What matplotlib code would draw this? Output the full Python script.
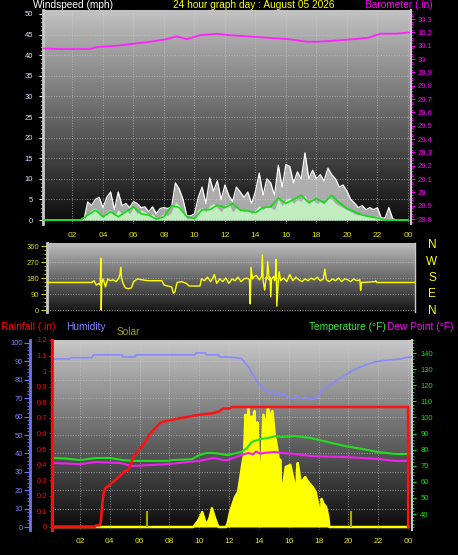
import numpy as np
import matplotlib
matplotlib.use('Agg')
import matplotlib.pyplot as plt
from matplotlib.ticker import MultipleLocator, FuncFormatter

plt.rcParams['font.family'] = ['Liberation Sans', 'DejaVu Sans']

W, H = 458, 555

# ---- wind speed, one value every 15 minutes (mph) ----
gust = [0, 0, 0, 0, 0, 0, 0, 0,
        0, 0, 0, 0, 4.4, 3.5, 5.0, 5.5,
        3.0, 5.5, 6.8, 2.5, 6.8, 3.5, 4.0, 3.0,
        4.5, 4.0, 3.0, 3.2, 2.0, 3.2, 1.5, 2.8,
        3.0, 2.8, 3.2, 9.0, 7.5, 5.0, 1.0, 1.0,
        1.5, 5.5, 8.0, 4.0, 10.2, 7.0, 9.5, 5.0,
        8.5, 6.0, 4.5, 8.0, 6.8, 5.5, 6.8, 4.0,
        7.0, 11.4, 6.0, 10.0, 9.0, 6.0, 13.3, 8.0,
        13.5, 13.0, 9.0, 11.7, 10.0, 16.3, 10.0, 12.1,
        10.0, 11.0, 9.5, 12.6, 11.0, 10.0, 8.0, 8.5,
        7.0, 5.0, 4.1, 3.0, 3.5, 2.5, 3.0, 2.5,
        3.0, 0.5, 0.5, 3.0, 0.3, 0, 0, 0,
        0]
speed = [0, 0, 0, 0, 0, 0, 0, 0,
         0, 0, 0, 0, 1.5, 2.5, 3.0, 1.5,
         0.5, 2.0, 2.5, 1.0, 2.5, 1.5, 2.5, 1.5,
         3.0, 1.5, 2.5, 2.0, 1.0, 1.5, 0.3, 1.0,
         1.5, 1.0, 2.0, 4.5, 3.5, 2.0, 0.3, 0.3,
         0.5, 2.5, 3.0, 2.0, 3.5, 4.0, 3.0, 2.0,
         3.5, 4.0, 2.0, 3.0, 2.5, 2.0, 2.5, 1.5,
         2.5, 3.5, 2.5, 3.5, 3.0, 2.5, 5.0, 3.5,
         5.0, 5.5, 4.0, 5.0, 4.5, 6.0, 4.0, 5.0,
         4.0, 4.5, 4.0, 5.5, 5.0, 4.0, 3.5, 3.0,
         2.5, 2.0, 1.5, 1.2, 1.5, 1.0, 1.0, 0.8,
         1.0, 0.2, 0, 0.5, 0, 0, 0, 0,
         0]
# average wind, every 30 minutes
avg = [0, 0, 0, 0, 0, 0, 1.2, 2.4,
       0.8, 2.0, 0.8, 2.0, 3.2, 1.5, 1.2, 0.2,
       0.8, 3.5, 3.0, 0.8, 0.3, 2.5, 2.5, 3.6,
       3.0, 4.0, 2.4, 2.2, 1.8, 3.0, 3.2, 5.3,
       4.0, 5.0, 6.0, 4.2, 5.2, 4.2, 6.0, 4.2,
       2.8, 2.0, 1.2, 0.8, 0.5, 0, 0, 0,
       0]

baro_hours = [0.07, 1.2, 2.3, 3.1, 3.6, 4.9, 6.0, 7.1, 8.2, 8.8, 9.5, 10.4,
              11.5, 12.2, 13.5, 14.8, 16.1, 17.4, 18.1, 19.4, 20.5, 21.4,
              22.2, 23.1, 24.2]
baro = [30.08, 30.075, 30.075, 30.075, 30.09, 30.10, 30.115, 30.13, 30.15,
        30.17, 30.15, 30.18, 30.19, 30.18, 30.17, 30.16, 30.15, 30.13, 30.13,
        30.14, 30.15, 30.16, 30.19, 30.19, 30.20]

# ---- wind direction (degrees) ----
dir_hours = [0.3, 3.3, 3.45, 3.6, 3.75, 3.85, 3.9, 3.92, 3.95, 4.05,
             4.2, 4.35, 4.5, 4.7, 4.9, 5.05, 5.15, 5.2, 5.25, 5.35,
             5.5, 5.7, 5.9, 6.05, 6.3, 6.6, 7.0, 7.5, 7.9, 8.05,
             8.3, 8.55, 8.65, 8.75, 8.9, 9.2, 9.5, 9.7, 10.4, 10.5,
             10.7, 10.9, 11.1, 11.25, 11.35, 11.5, 11.7, 11.9, 12.1, 12.3,
             12.5, 12.7, 12.9, 13.1, 13.3, 13.5, 13.65, 13.7, 13.75, 13.85,
             13.9, 14.1, 14.3, 14.45, 14.5, 14.55, 14.65, 14.75, 14.8, 14.85,
             14.95, 15.0, 15.05, 15.1, 15.25, 15.3, 15.35, 15.4, 15.45, 15.55,
             15.6, 15.7, 15.9, 16.1, 16.3, 16.5, 16.7, 16.9, 17.1, 17.3,
             17.5, 17.7, 17.9, 18.1, 18.3, 18.5, 18.6, 18.7, 18.9, 19.1,
             19.3, 19.5, 19.7, 19.9, 20.1, 20.3, 20.5, 20.7, 20.9, 20.95,
             21.0, 21.1, 21.9, 21.95, 22.0, 24.5]
dir_deg = [155, 155, 165, 140, 150, 140, 290, 0, 150, 175,
           130, 175, 165, 170, 160, 175, 200, 240, 180, 150,
           125, 120, 125, 160, 175, 170, 165, 165, 165, 140,
           135, 130, 95, 100, 155, 160, 150, 135, 135, 175,
           165, 185, 160, 180, 200, 150, 175, 160, 180, 150,
           175, 165, 185, 160, 175, 180, 170, 35, 240, 175,
           185, 195, 170, 190, 310, 165, 112, 185, 175, 272,
           170, 185, 75, 175, 190, 165, 180, 285, 22, 170,
           215, 165, 180, 160, 200, 165, 185, 170, 160, 175,
           165, 180, 170, 185, 165, 175, 230, 170, 160, 175,
           165, 180, 160, 175, 170, 160, 175, 165, 170, 110,
           155, 155, 160, 165, 155, 155]

# ---- rain, humidity, temperature, dew point, solar ----
rain_hours = [0.1, 3.0, 3.1, 3.3, 3.4, 3.5, 3.6, 3.7, 4.0, 4.35, 4.6, 4.9,
              5.25, 5.4, 5.6, 6.0, 6.4, 6.7, 7.0, 7.4, 7.8, 8.3, 8.8, 10.0,
              10.9, 11.3, 11.6, 12.0, 12.2, 24.0, 24.0]
rain = [0, 0, 0.01, 0.01, 0.03, 0.15, 0.22, 0.25, 0.27, 0.30, 0.32, 0.35,
        0.37, 0.40, 0.45, 0.50, 0.55, 0.60, 0.63, 0.67, 0.68, 0.69, 0.70, 0.72,
        0.73, 0.74, 0.76, 0.76, 0.77, 0.77, 0]

hum_hours = [0.1, 1.3, 1.4, 2.8, 2.9, 4.8, 4.9, 5.7, 5.8, 9.7, 9.8, 10.4,
             10.5, 11.3, 11.4, 11.9, 12.5, 12.8, 13.0, 13.3, 13.5, 13.7, 13.9,
             14.1, 14.3, 14.5, 14.7, 14.9, 15.1, 15.3, 15.5, 15.7, 15.9, 16.2,
             16.5, 16.8, 17.1, 17.4, 17.8, 18.0, 18.2, 18.6, 19.1, 19.5, 20.0,
             20.4, 20.8, 21.3, 21.8, 22.2, 22.7, 23.1, 23.5, 23.8, 24.2]
hum = [91.3, 91.3, 92, 92, 93.5, 93.5, 92.4, 92.4, 93.5, 93.5, 94.6, 94.6,
       93.5, 93.5, 92.4, 92.4, 92, 91.5, 90, 87, 84, 81.5, 79,
       77, 75, 74, 73, 74, 72, 73, 71.5, 72.5, 70.5, 70,
       71, 70, 70.5, 69.5, 70, 71, 74.5, 76, 79, 81, 83.7,
       85.5, 87, 88.5, 89.7, 90.3, 90.8, 91, 91.3, 92, 92.4]

temp_hours = [0.1, 1.0, 2.0, 3.1, 4.0, 4.9, 5.6, 7.9, 8.2, 9.5, 10.0, 10.5,
              11.0, 11.9, 12.8, 13.2, 13.5, 14.1, 14.6, 15.1, 15.5, 16.4,
              17.5, 18.6, 19.8, 20.9, 22.0, 23.1, 24.0]
temp = [74.8, 74.5, 73.5, 74.8, 74.8, 73.5, 73, 73, 73.5, 74, 76.6, 77.9,
        77.9, 76.6, 78.5, 81, 84.7, 86.6, 87.2, 88.4, 87.8, 88.4,
        87.2, 84.7, 82.2, 80.4, 78.5, 77.3, 77.3]

dew_hours = [0.1, 2.0, 3.1, 4.7, 5.5, 7.9, 10.0, 11.0, 11.6, 11.9, 12.8, 13.3,
             13.6, 13.8, 14.1, 14.4, 15.1, 15.5, 16.4, 17.5, 19.8, 22.0, 23.1,
             24.0]
dew = [71.7, 71, 72.3, 71.7, 69.8, 71, 73, 74.8, 73.5, 73.5, 76.6, 77.9,
       77, 78.8, 77.5, 78, 78.5, 78, 77.3, 76, 75.4, 74.2, 73, 73]

solar_hours = [0.1, 9.6, 9.9, 10.1, 10.2, 10.35, 10.5, 10.7, 10.85, 11.0, 11.2,
               11.3, 11.8, 11.9, 12.1, 12.4, 12.6, 12.8, 12.9, 13.0, 13.1,
               13.2, 13.3, 13.4, 13.5, 13.6, 13.7, 13.8, 13.9, 14.05, 14.15,
               14.3, 14.45, 14.6, 14.75, 14.9, 15.05, 15.2, 15.3, 15.38, 15.42,
               15.5, 15.6, 15.8, 16.1, 16.3, 16.45, 16.5, 16.55, 16.6, 16.8,
               17.1, 17.3, 17.6, 17.8, 18.05, 18.15, 18.2, 18.3, 18.5, 18.65,
               18.72, 24.0]
solar = [0, 0, 30, 60, 80, 40, 10, 50, 100, 60, 15,
         0, 0, 20, 90, 160, 187, 289, 342, 380, 600,
         480, 636, 520, 590, 560, 620, 420, 560, 235, 305,
         600, 520, 640, 580, 620, 500, 430, 380, 60, 360,
         160, 214, 321, 332, 262, 200, 40, 300, 342, 235,
         267, 241, 214, 187, 91, 20, 150, 128, 107, 53,
         0, 0]
solar_spot_hours = [6.5, 20.2]
solar_spot = [85, 85]

assert len(dir_hours) == len(dir_deg)
assert len(solar_hours) == len(solar)
assert len(hum_hours) == len(hum)

quarter = np.arange(len(gust)) * 0.25
half = np.arange(len(avg)) * 0.5

fig = plt.figure(figsize=(W / 100, H / 100), dpi=100, facecolor='black')


def box(left, top, right, bottom):
    return fig.add_axes([left / W, 1 - bottom / H, (right - left) / W, (bottom - top) / H])


def shade(ax, top, bottom):
    g = np.linspace(top, bottom, 200).reshape(-1, 1)
    ax.imshow(g, cmap='gray', vmin=0, vmax=1, aspect='auto', extent=(0, 1, 0, 1),
              transform=ax.transAxes, zorder=0, interpolation='bilinear')


def strip(ax):
    for s in ax.spines.values():
        s.set_visible(False)


def short(v, pos):
    return f'{v:.1f}'.rstrip('0').rstrip('.')


hour_ticks = list(range(2, 25, 2))
hour_labels = [f'{h % 24:02d}' for h in hour_ticks]
yellow_lbl = '#e6e600'

# ---------------- wind speed / barometer ----------------
ax1 = box(43, 10, 411, 224)
shade(ax1, 0.76, 0.04)
ax1.fill_between(quarter, gust, color='#e8e8e8', alpha=0.7, lw=0, zorder=2)
ax1.plot(quarter, gust, color='white', lw=0.9, zorder=3)
ax1.fill_between(quarter, speed, color='#c4f5c4', alpha=0.9, lw=0, zorder=4)
ax1.plot(half, avg, color='#11dd11', lw=1.2, zorder=5)
ax1.set_xlim(0.066, 24.2)
ax1.set_ylim(-0.97, 50.97)
ax1.set_yticks(range(0, 51, 5))
ax1.yaxis.set_minor_locator(MultipleLocator(1))
ax1.set_xticks(hour_ticks, hour_labels)
ax1.grid(True, color='#d0d0d0', ls=':', lw=0.7, alpha=0.6)
strip(ax1)
ax1.spines['left'].set_visible(True)
ax1.spines['left'].set_color('#c8c8c8')
ax1.spines['left'].set_linewidth(2)
ax1.tick_params(axis='y', colors='white', labelcolor='#d8e4ff', labelsize=5.5,
                length=3, width=0.8, pad=4)
ax1.tick_params(axis='y', which='minor', colors='white', length=1.5, width=0.6)
ax1.tick_params(axis='x', length=0, labelcolor=yellow_lbl, labelsize=6, pad=5.5)

ax1b = ax1.twinx()
ax1b.plot(baro_hours, baro, color='#ff22ff', lw=1.3)
ax1b.set_ylim(28.763, 30.368)
ax1b.set_yticks(np.round(np.arange(28.8, 30.31, 0.1), 1))
ax1b.yaxis.set_minor_locator(MultipleLocator(0.02))
ax1b.yaxis.set_major_formatter(FuncFormatter(short))
strip(ax1b)
ax1b.spines['right'].set_visible(True)
ax1b.spines['right'].set_color('#c8c8c8')
ax1b.spines['right'].set_linewidth(1.5)
ax1b.tick_params(axis='y', colors='#ff00ff', labelsize=5.5, length=3, width=0.8, pad=2)
ax1b.tick_params(axis='y', which='minor', colors='#ff00ff', length=1.5, width=0.6)

fig.text(33 / W, 1 - 5 / H, 'Windspeed (mph)', color='white', fontsize=7.3, va='center')
fig.text(254 / W, 1 - 5 / H, '24 hour graph day : August 05 2026', color='#ffff00',
         fontsize=7.3, va='center', ha='center')
fig.text(433 / W, 1 - 5 / H, 'Barometer (.in)', color='#ff00ff', fontsize=7.3,
         va='center', ha='right')

# ---------------- wind direction ----------------
ax2 = box(47, 243, 415, 312)
shade(ax2, 0.75, 0.08)
ax2.plot(dir_hours, dir_deg, color='#ffff00', lw=1, zorder=3)
ax2.set_xlim(0.36, 24.52)
ax2.set_ylim(-11, 377)
ax2.set_yticks([0, 90, 180, 270, 360])
ax2.yaxis.set_minor_locator(MultipleLocator(22.5))
ax2.set_xticks([])
ax2.grid(True, axis='y', color='#d0d0d0', ls=':', lw=0.7, alpha=0.6)
strip(ax2)
ax2.spines['left'].set_visible(True)
ax2.spines['left'].set_color('#c8c8c8')
ax2.spines['left'].set_linewidth(2)
ax2.spines['right'].set_visible(True)
ax2.spines['right'].set_color('#c8c8c8')
ax2.spines['right'].set_linewidth(1)
ax2.tick_params(axis='y', colors='#d4d400', labelsize=5.5, length=4, width=0.8, pad=1.5)
ax2.tick_params(axis='y', which='minor', colors='#d4d400', length=2, width=0.6)

for lbl, y in zip(['N', 'W', 'S', 'E', 'N'], [245, 262, 278, 294, 311]):
    fig.text(432 / W, 1 - y / H, lbl, color='#ffff00', fontsize=8.5, ha='center', va='center')

# ---------------- rain / humidity / solar / temperature ----------------
ax3 = box(52, 340, 412, 530)
shade(ax3, 0.78, 0.04)
ax3.fill_between(solar_hours, solar, color='#ffff00', lw=0, zorder=2)
ax3.plot(solar_hours, solar, color='#ffff00', lw=1.8, zorder=2)
ax3.vlines(solar_spot_hours, 0, solar_spot, color='#a8a800', lw=1.5, zorder=2)
ax3.set_xlim(0.13, 24.26)
ax3.set_ylim(-16, 1000)
ax3.set_yticks([])
ax3.set_xticks(hour_ticks, hour_labels)
ax3.grid(True, axis='x', color='#d0d0d0', ls=':', lw=0.7, alpha=0.6)
hum_lim = (-1.6, 101.6)
fracs = [(v - hum_lim[0]) / (hum_lim[1] - hum_lim[0]) for v in range(10, 101, 10)]
ax3.hlines(fracs, 0, 1, transform=ax3.transAxes, color='#d0d0d0', ls=':', lw=0.7,
           alpha=0.6, zorder=1)
strip(ax3)
ax3.spines['left'].set_visible(True)
ax3.spines['left'].set_color('white')
ax3.spines['left'].set_linewidth(2)
ax3.tick_params(axis='x', length=0, labelcolor=yellow_lbl, labelsize=6, pad=5.5)

ax3t = ax3.twinx()
ax3t.plot(temp_hours, temp, color='#22dd22', lw=1.5)
ax3t.plot(dew_hours, dew, color='#ee22ee', lw=1.5)
ax3t.set_ylim(30.06, 148.1)
ax3t.set_yticks(range(40, 141, 10))
ax3t.yaxis.set_minor_locator(MultipleLocator(2))
strip(ax3t)
ax3t.spines['right'].set_visible(True)
ax3t.spines['right'].set_color('#c8c8c8')
ax3t.spines['right'].set_linewidth(1.5)
ax3t.tick_params(axis='y', colors='#00ee00', labelsize=5.5, length=3, width=0.8, pad=3)
ax3t.tick_params(axis='y', which='minor', colors='#00ee00', length=1.5, width=0.6)

ax3h = ax3.twinx()
ax3h.plot(hum_hours, hum, color='#8888ff', lw=1.2)
ax3h.set_ylim(*hum_lim)
ax3h.set_yticks(range(0, 101, 10))
ax3h.yaxis.set_minor_locator(MultipleLocator(2))
strip(ax3h)
ax3h.yaxis.set_ticks_position('left')
ax3h.yaxis.set_label_position('left')
ax3h.spines['left'].set_visible(True)
ax3h.spines['left'].set_position(('axes', (30 - 52) / 360))
ax3h.spines['left'].set_color('#7070ff')
ax3h.spines['left'].set_linewidth(2)
ax3h.tick_params(axis='y', colors='#7070ff', labelcolor='#8080ff', labelsize=5.5,
                 length=4, width=0.8, pad=1)
ax3h.tick_params(axis='y', which='minor', colors='#7070ff', length=2, width=0.6)

ax3r = ax3.twinx()
ax3r.plot(rain_hours, rain, color='#ff1111', lw=1.8)
ax3r.set_ylim(-0.0193, 1.2)
ax3r.set_yticks(np.round(np.arange(0, 1.21, 0.1), 1))
ax3r.yaxis.set_minor_locator(MultipleLocator(0.02))
ax3r.yaxis.set_major_formatter(FuncFormatter(short))
strip(ax3r)
ax3r.yaxis.set_ticks_position('left')
ax3r.spines['left'].set_visible(True)
ax3r.spines['left'].set_color('#ff0000')
ax3r.spines['left'].set_linewidth(2)
ax3r.spines['left'].set_linestyle((0, (1, 1)))
ax3r.tick_params(axis='y', colors='#ff0000', labelsize=5.5, length=2.5, width=0.8, pad=1)
ax3r.tick_params(axis='y', which='minor', colors='#ff0000', length=1.2, width=0.6)

fig.text(1 / W, 1 - 327 / H, 'Rainfall (.in)', color='#ff0000', fontsize=7.3, va='center')
fig.text(66 / W, 1 - 327 / H, 'Humidity', color='#8080ff', fontsize=7.3, va='center')
fig.text(117 / W, 1 - 332 / H, 'Solar', color='#a0a000', fontsize=7.3, va='center')
fig.text(386 / W, 1 - 327 / H, 'Temperature (°F)', color='#33ee33', fontsize=7.3,
         va='center', ha='right')
fig.text(387 / W, 1 - 327 / H, 'Dew Point (°F)', color='#ff00ff', fontsize=7.3,
         va='center', ha='left')

fig.savefig('out.png', dpi=100, facecolor='black')
